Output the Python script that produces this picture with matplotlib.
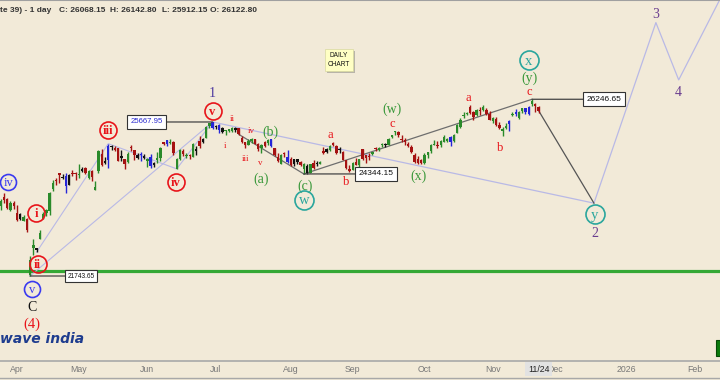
import numpy as np
import pandas as pd
import matplotlib
matplotlib.use("Agg")
import matplotlib.pyplot as plt
from matplotlib.transforms import offset_copy
from matplotlib.patches import Rectangle
from matplotlib.lines import Line2D

# ---------------- data ----------------
holidays = ["2025-03-31", "2025-04-10", "2025-04-14", "2025-04-18", "2025-05-01",
            "2025-08-15", "2025-08-27", "2025-10-02", "2025-10-22", "2025-11-05",
            "2025-12-25", "2026-01-26"]

dates = (["2025-03-%02d" % d for d in [24, 25, 26, 27, 28]] +
         ["2025-04-%02d" % d for d in [1, 2, 3, 4, 7, 8, 9, 11, 15, 16, 17, 21, 22, 23, 24, 25, 28, 29, 30]] +
         ["2025-05-%02d" % d for d in [2, 5, 6, 7, 8, 9, 12, 13, 14, 15, 16, 19, 20, 21, 22, 23, 26, 27, 28, 29, 30]] +
         ["2025-06-%02d" % d for d in [2, 3, 4, 5, 6, 9, 10, 11, 12, 13, 16, 17, 18, 19, 20, 23, 24, 25, 26, 27, 30]] +
         ["2025-07-%02d" % d for d in [1, 2, 3, 4, 7, 8, 9, 10, 11, 14, 15, 16, 17, 18, 21, 22, 23, 24, 25, 28, 29, 30, 31]] +
         ["2025-08-%02d" % d for d in [1, 4, 5, 6, 7, 8, 11, 12, 13, 14, 18, 19, 20, 21, 22, 25, 26, 28, 29]] +
         ["2025-09-%02d" % d for d in [1, 2, 3, 4, 5, 8, 9, 10, 11, 12, 15, 16, 17, 18, 19, 22, 23, 24, 25, 26, 29, 30]] +
         ["2025-10-%02d" % d for d in [1, 3, 6, 7, 8, 9, 10, 13, 14, 15, 16, 17, 20, 21, 23, 24, 27, 28, 29, 30, 31]] +
         ["2025-11-%02d" % d for d in [3, 4, 6, 7, 10, 11, 12, 13, 14, 17, 18, 19, 20, 21, 24]])

opens = [23515, 23751, 23700, 23433, 23600,
         23342, 23192, 23150, 23190, 21758, 22447, 22460, 22695, 23207, 23345, 23402, 23949, 24185, 24357, 24277, 24289, 24070, 24371, 24343,
         24311, 24420, 24500, 24233, 24431, 23936, 24420, 24864, 24614, 24694, 25064, 25006, 24997, 24744, 24733, 24639, 25010, 24956, 24832, 24825, 24812,
         24669, 24787, 24561, 24691, 24749, 25160, 25197, 25134, 25164, 24474, 24733, 24940, 24789, 24803, 24787, 24940, 25180, 25151, 25269, 25576, 25661,
         25551, 25588, 25505, 25428, 25450, 25428, 25515, 25511, 25256, 25149, 25090, 25196, 25231, 25108, 24999, 25166, 25139, 25244, 25010, 24783, 24610, 24890, 24643,
         24735, 24597, 24720, 24641, 24464, 24544, 24371, 24627, 24586, 24607, 24938, 24891, 24965, 25142, 25065, 24950, 24900, 24695, 24467,
         24432, 24653, 24563, 24980, 24819, 24802, 24864, 24991, 24945, 25075, 25118, 25074, 25276, 25403, 25410, 25239, 25209, 25108, 25034, 24818, 24728, 24691,
         24620, 24836, 24917, 25085, 25079, 25075, 25167, 25178, 25276, 25182, 25394, 25546, 25824, 25868, 26057, 25935, 25843, 25939, 25982, 25984, 25864,
         25696, 25744, 25593, 25433, 25503, 25617, 25834, 25920, 25769, 25950, 26022, 25875, 26133, 26122.8, 26060]
highs = [23708, 23869, 23736, 23646, 23649,
         23565, 23350, 23306, 23214, 22254, 22698, 22468, 22923, 23368, 23452, 23872, 24189, 24242, 24359, 24347, 24365, 24355, 24457, 24396,
         24589, 24526, 24509, 24449, 24447, 24164, 24945, 24973, 24767, 25116, 25071, 25062, 25010, 24946, 24737, 24909, 25080, 24957, 24865, 24892, 24863,
         24754, 24845, 24644, 24899, 25029, 25170, 25199, 25222, 25196, 24754, 24967, 24982, 24878, 24863, 25136, 25057, 25318, 25266, 25561, 25654, 25667.95,
         25593, 25608, 25533, 25470, 25489, 25549, 25548, 25525, 25322, 25151, 25245, 25255, 25238, 25145, 25111, 25182, 25233, 25246, 25010, 24889, 24848, 24903, 24956,
         24784, 24736, 24734, 24671, 24634, 24585, 24603, 24702, 24664, 24674, 25022, 25012, 25089, 25154, 25084, 25022, 24919, 24702, 24573,
         24636, 24756, 24730, 24981, 24833, 24886, 24891, 25035, 25038, 25139, 25120, 25261, 25346, 25449, 25428, 25331, 25261, 25149, 25092, 24868, 24791, 24731,
         24867, 24904, 25095, 25220, 25192, 25199, 25330, 25267, 25310, 25365, 25625, 25781, 25926, 25934, 26104, 25944, 26005, 26042, 26097, 26032, 25953,
         25803, 25787, 25679, 25551, 25653, 25715, 25934, 26010, 25940, 26025, 26030, 26075, 26246.65, 26142.8, 26086]
lows = [23433, 23601, 23451, 23412, 23451,
        23136, 23158, 23145, 22857, 21743.65, 22270, 22353, 22695, 23207, 23273, 23299, 23903, 24072, 24119, 24216, 23847, 24054, 24290, 24199,
        24238, 24400, 24331, 24220, 24164, 23936, 24378, 24547, 24594, 24494, 24953, 24916, 24663, 24686, 24463, 24614, 24921, 24705, 24737, 24677, 24717,
        24526, 24502, 24530, 24613, 24671, 25077, 25059, 25105, 24825, 24473, 24703, 24813, 24738, 24733, 24783, 24825, 24999, 25125, 25267, 25523, 25490,
        25501, 25378, 25387, 25331, 25407, 25424, 25424, 25340, 25129, 25001, 25089, 25145, 25101, 24919, 24882, 25035, 25085, 25018, 24806, 24646, 24599, 24772, 24635,
        24535, 24536, 24590, 24540, 24344.15, 24350, 24378, 24465, 24539, 24586, 24852, 24873, 24930, 25054, 24859, 24874, 24689, 24481, 24404,
        24432, 24567, 24533, 24698, 24621, 24703, 24815, 24916, 24941, 25037, 25038, 25071, 25257, 25330, 25286, 25151, 25085, 25027, 24878, 24629, 24606, 24588,
        24605, 24755, 24882, 25076, 25009, 25024, 25156, 25152, 25061, 25159, 25376, 25508, 25763, 25847, 25862, 25718, 25827, 25845, 25960, 25845, 25711,
        25645, 25578, 25491, 25318, 25490, 25449, 25820, 25808, 25740, 25904, 25877, 25856, 26069, 25912.15, 25906]
closes = [23658, 23668, 23487, 23592, 23519,
          23165, 23332, 23250, 22904, 22162, 22536, 22399, 22829, 23329, 23437, 23852, 24125, 24167, 24329, 24247, 24039, 24328, 24336, 24334,
          24347, 24461, 24380, 24414, 24273, 24008, 24925, 24578, 24667, 25062, 25020, 24945, 24684, 24813, 24610, 24853, 25001, 24826, 24752, 24834, 24751,
          24717, 24543, 24621, 24751, 25003, 25103, 25104, 25141, 24888, 24719, 24947, 24853, 24812, 24793, 25112, 24972, 25044, 25245, 25549, 25637, 25517,
          25542, 25453, 25405, 25461, 25461, 25523, 25476, 25355, 25150, 25083, 25196, 25212, 25112, 24968, 25091, 25061, 25220, 25062, 24837, 24681, 24821, 24855, 24768,
          24565, 24723, 24650, 24574, 24596, 24363, 24585, 24487, 24619, 24631, 24877, 24980, 25051, 25084, 24870, 24968, 24712, 24501, 24427,
          24625, 24580, 24716, 24734, 24741, 24774, 24868, 24973, 25006, 25114, 25069, 25239, 25330, 25424, 25327, 25203, 25170, 25057, 24891, 24655, 24635, 24611,
          24837, 24894, 25077, 25108, 25046, 25182, 25285, 25227, 25146, 25324, 25586, 25710, 25843, 25869, 25891, 25795, 25966, 25936, 26054, 25878, 25722,
          25763, 25597, 25510, 25492, 25574, 25695, 25876, 25879, 25910, 26013, 25910, 26052, 26192, 26068.15, 25960]

support_level = 21870

# wave pivots
impulse_dates = ["2025-04-09", "2025-05-15", "2025-06-13", "2025-06-30"]
impulse_prices = [22353, 25116, 24473, 25667.95]
base_dates = ["2025-04-07", "2025-06-30"]
base_prices = [21743.65, 25667.95]
proj_dates = ["2025-06-30", "2025-12-17", "2026-01-14", "2026-01-23", "2026-02-12"]
proj_prices = [25667.95, 23600, 28200, 26740, 28850]
abc_dates = ["2025-07-10", "2025-08-07"]
abc_prices = [25355, 24344.15]
wxy_dates = ["2025-08-07", "2025-11-20"]
wxy_prices = [24344.15, 26246.65]
drop_dates = ["2025-11-24", "2025-12-17"]
drop_prices = [25960, 23600]

month_labels = ["Apr", "May", "Jun", "Jul", "Aug", "Sep", "Oct", "Nov", "Dec", "2026", "Feb"]
month_keys = ["2025-04", "2025-05", "2025-06", "2025-07", "2025-08", "2025-09",
              "2025-10", "2025-11", "2025-12", "2026-01", "2026-02"]

# ---------------- style ----------------
BG = "#f2ead8"
UP, DOWN, INSIDE, OUTSIDE = "#2a8a2a", "#a51212", "#111111", "#2525d8"
RED, BLUE, GREEN, TEAL = "#e8141a", "#3a3af0", "#3a983a", "#2aa69d"
PURPLE1, PURPLE = "#4e3aa0", "#6a3d8f"
LAV, GRAY = "#b9b9e6", "#6e6e6e"
SERIF = ["Liberation Serif", "DejaVu Serif"]
SANS = ["Liberation Sans", "DejaVu Sans"]

cal = pd.bdate_range("2025-03-24", "2026-02-27")
cal = cal[~cal.isin(pd.to_datetime(holidays))]
pos = {d.strftime("%Y-%m-%d"): i for i, d in enumerate(cal)}

fig = plt.figure(figsize=(7.2, 3.8), dpi=100, facecolor=BG)
ax = fig.add_axes([0, 0.05, 1, 0.95], facecolor=BG)

x_apr, x_feb = pos["2025-04-01"], pos["2026-02-02"]
scale = (695 - 17) / (x_feb - x_apr)
ax.set_xlim(x_apr - 17 / scale, x_apr + (720 - 17) / scale)
ax.set_ylim(19578, 28776)

# candles
xs = [pos[d] for d in dates]
for i, x in enumerate(xs):
    o, h, l, c = opens[i], highs[i], lows[i], closes[i]
    if i > 0 and h > highs[i - 1] and l < lows[i - 1]:
        col = OUTSIDE
    elif i > 0 and h <= highs[i - 1] and l >= lows[i - 1]:
        col = INSIDE
    else:
        col = UP if c >= o else DOWN
    ax.vlines(x, l, h, color=col, lw=1.0, zorder=3)
    ax.bar(x, max(abs(c - o), 30), bottom=min(o, c), width=0.74, color=col, lw=0, zorder=3)

ax.axhline(support_level, color="#35a835", lw=2.3, zorder=2)

def xd(ds):
    return [pos[d] for d in ds]

ax.plot(xd(impulse_dates), impulse_prices, color=LAV, lw=0.8, zorder=2)
ax.plot(xd(base_dates), base_prices, color=LAV, lw=0.8, zorder=2)
ax.plot(xd(proj_dates), proj_prices, color=LAV, lw=0.9, zorder=2)
ax.plot(xd(abc_dates), abc_prices, color=GRAY, lw=0.9, zorder=2)
ax.plot(xd(wxy_dates), wxy_prices, color=GRAY, lw=0.9, zorder=2)
ax.plot(xd(drop_dates), drop_prices, color="#555555", lw=0.9, zorder=2)

def off(dx, dy):
    return offset_copy(ax.transData, fig=fig, x=dx, y=dy, units="dots")

# price boxes
boxes = [("25667.95", "2025-06-30", 25667.95, -47, "right", "#2b2bd0", 5.6),
         ("21743.65", "2025-04-07", 21743.65, 35, "left", "#111111", 4.7),
         ("24344.15", "2025-08-07", 24344.15, 51, "left", "#111111", 6.0),
         ("26246.65", "2025-11-20", 26246.65, 51, "left", "#111111", 6.0)]
for txt, d, p, edge, ha, col, fs in boxes:
    x = pos[d]
    ax.annotate("", xy=(x, p), xytext=(edge, 0), textcoords="offset pixels",
                arrowprops=dict(arrowstyle="-", color="#444444", lw=0.9, shrinkA=0, shrinkB=0), zorder=4)
    pad_px = 0.4 * fs * 100 / 72
    tx = edge + pad_px if ha == "left" else edge - pad_px
    ax.text(x, p, txt, transform=off(tx, 0), ha=ha, va="center", fontsize=fs, color=col,
            family=SANS, zorder=6,
            bbox=dict(boxstyle="square,pad=0.4", fc="white", ec="#333333", lw=0.8))

# wave labels: text, date, price, dx, dy, colour, size, circle diameter(px), bold
labels = [
    ("iv", "2025-03-27", 23646, -2, 19, BLUE, 9, 16, False),
    ("v", "2025-04-07", 21743.65, 2, -13, BLUE, 9, 16, False),
    ("C", "2025-04-07", 21743.65, 2, -30, "#111111", 10, 0, False),
    ("(4)", "2025-04-07", 21743.65, 2, -47, RED, 10.5, 0, False),
    ("i", "2025-04-08", 22698, 3, 26, RED, 9, 17, True),
    ("ii", "2025-04-09", 22353, 1, -12, RED, 9, 17, True),
    ("iii", "2025-05-15", 25116, 0, 14, RED, 9, 17, True),
    ("iv", "2025-06-13", 24473, -1, -13, RED, 9, 17, True),
    ("v", "2025-06-30", 25667.95, 0, 11, RED, 9, 17, True),
    ("1", "2025-06-30", 25667.95, 0, 29, PURPLE1, 10, 0, False),
    ("ii", "2025-07-08", 25549, 0, 9, RED, 6.5, 0, False),
    ("i", "2025-07-04", 25331, -1, -10, RED, 6.5, 0, False),
    ("iii", "2025-07-14", 25001, 0, -10, RED, 6.5, 0, False),
    ("iv", "2025-07-16", 25255, 0, 8, RED, 6.5, 0, False),
    ("v", "2025-07-18", 24919, 2, -11, RED, 6.5, 0, False),
    ("(b)", "2025-07-23", 25233, 2, 8, GREEN, 10, 0, False),
    ("(a)", "2025-07-18", 24919, 3, -27, GREEN, 10, 0, False),
    ("(c)", "2025-08-07", 24344.15, 1, -11, GREEN, 10, 0, False),
    ("w", "2025-08-07", 24344.15, 0, -26, TEAL, 10.5, 19, False),
    ("a", "2025-08-21", 25154, -3, 8, RED, 9, 0, False),
    ("b", "2025-08-29", 24404, -3, -9, RED, 9, 0, False),
    ("c", "2025-09-18", 25449, -3, 8, RED, 9, 0, False),
    ("(w)", "2025-09-18", 25449, -3, 22, GREEN, 10, 0, False),
    ("(x)", "2025-09-30", 24588, -3, -11, GREEN, 10, 0, False),
    ("a", "2025-10-23", 26104, -2, 8, RED, 9, 0, False),
    ("b", "2025-11-07", 25318, -3, -11, RED, 9, 0, False),
    ("c", "2025-11-20", 26246.65, -3, 8, RED, 9, 0, False),
    ("(y)", "2025-11-20", 26246.65, -3, 22, GREEN, 10, 0, False),
    ("x", "2025-11-20", 26246.65, -3, 39, TEAL, 10.5, 19, False),
    ("y", "2025-12-17", 23600, 1, -11, TEAL, 10.5, 19, False),
    ("2", "2025-12-17", 23600, 1, -29, PURPLE, 10, 0, False),
    ("3", "2026-01-14", 28200, 0, 9, PURPLE, 10, 0, False),
    ("4", "2026-01-23", 26740, 0, -12, PURPLE, 10, 0, False),
]
for txt, d, p, dx, dy, col, fs, circ, bold in labels:
    x = pos[d]
    tr = off(dx, dy)
    if circ:
        ax.plot([x], [p], marker="o", ms=circ * 0.72, mfc="none", mec=col, mew=1.2,
                transform=tr, zorder=5, clip_on=False)
    ax.text(x, p, txt, transform=off(dx, dy - 1), ha="center", va="center", fontsize=fs,
            color=col, family=SERIF, fontweight="bold" if bold else "normal", zorder=5)

# axes cosmetics
ticks = [next(i for d, i in pos.items() if d.startswith(k)) for k in month_keys]
ax.set_xticks(ticks)
ax.set_xticklabels(month_labels, fontsize=6.3, color="#777777", family=SANS)
ax.tick_params(axis="x", length=0, pad=3)
ax.set_yticks([])
for s in ["left", "right"]:
    ax.spines[s].set_visible(False)
ax.spines["bottom"].set_color("#a8a8a8")
ax.spines["top"].set_color("#a0a0a0")
ax.spines["bottom"].set_linewidth(1.2)
ax.spines["top"].set_linewidth(1.5)

ax.annotate("11/24", xy=(pos["2025-11-24"], 0), xycoords=("data", "axes fraction"),
            xytext=(0, -8), textcoords="offset pixels", ha="center", va="center",
            fontsize=6.3, color="#222222", family=SANS, zorder=10, annotation_clip=False,
            bbox=dict(boxstyle="square,pad=0.3", fc="#e2e2e2", ec="none"))

# header text
W, H = 720.0, 380.0
hdr = [("te 39) - 1 day", 0), ("C: 26068.15", 59), ("H: 26142.80", 110),
       ("L: 25912.15", 162), ("O: 26122.80", 210)]
for t, px in hdr:
    fig.text(px / W, 1 - 10 / H, t, ha="left", va="center", fontsize=6.0,
             fontweight="bold", color="#333333", family=SANS)

# DAILY CHART note
fig.patches.append(Rectangle((327 / W, 1 - 73 / H), 28 / W, 22 / H, transform=fig.transFigure,
                             fc="#b8b4a8", ec="none", zorder=5))
fig.patches.append(Rectangle((325 / W, 1 - 71 / H), 28 / W, 22 / H, transform=fig.transFigure,
                             fc="#ffffc4", ec="#d8d8a0", lw=0.5, zorder=6))
fig.text(339 / W, 1 - 60 / H, "DAILY\nCHART", ha="center", va="center", fontsize=4.7,
         color="#111111", family=SANS, linespacing=1.25, zorder=7)

# watermark
fig.text(0.5 / W, 1 - 339 / H, "wave india", ha="left", va="center", fontsize=10,
         fontweight="bold", style="italic", color="#1e3c8e", family=["DejaVu Sans"])

# corner marker
fig.patches.append(Rectangle((716 / W, 1 - 356 / H), 8 / W, 16 / H, transform=fig.transFigure,
                             fc="#0c7a0c", ec="#064a06", lw=0.8, zorder=6))
fig.add_artist(Line2D([0, 1], [2 / H, 2 / H], color="#a8a8a8", lw=1.0))

fig.savefig("out.png", dpi=100, facecolor=BG)
